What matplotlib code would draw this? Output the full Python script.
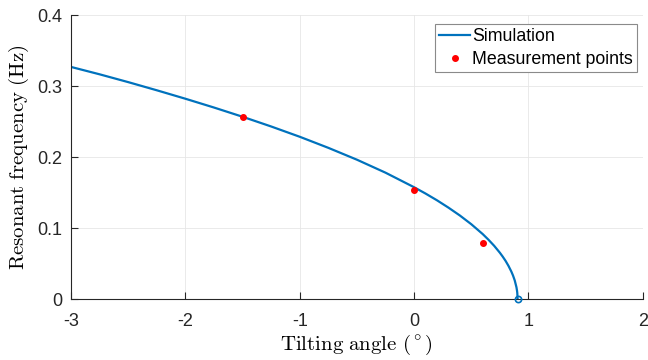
import matplotlib
matplotlib.use("Agg")
import matplotlib.pyplot as plt

# simulation curve
sim_angle = [-3.0, -2.75, -2.5, -2.25, -2.0, -1.75, -1.5, -1.25, -1.0, -0.75,
             -0.5, -0.25, 0.0, 0.1, 0.2, 0.3, 0.4, 0.5, 0.6, 0.65, 0.7, 0.75,
             0.775, 0.8, 0.825, 0.85, 0.865, 0.88, 0.895, 0.9, 0.9025, 0.905]
sim_freq = [0.327, 0.3166, 0.3056, 0.2941, 0.2822, 0.2698, 0.2568, 0.2431,
            0.2286, 0.2130, 0.1963, 0.1780, 0.1575, 0.1486, 0.1391, 0.1288,
            0.1177, 0.1054, 0.0915, 0.0836, 0.0750, 0.0652, 0.0597, 0.0537,
            0.0468, 0.0388, 0.0331, 0.0262, 0.0166, 0.0117, 0.0083, 0.0]

# measurements
meas_angle = [-1.5, 0.0, 0.6]
meas_freq = [0.256, 0.154, 0.079]

xticks = [-3, -2, -1, 0, 1, 2]
yticks = [0, 0.1, 0.2, 0.3, 0.4]

plt.rcParams['font.family'] = ['Liberation Sans', 'DejaVu Sans']
plt.rcParams['mathtext.fontset'] = 'cm'

fig = plt.figure(figsize=(6.48, 3.6), dpi=100)
ax = fig.add_axes([0.1096, 0.1694, 0.8824, 0.7886])

ax.plot(sim_angle, sim_freq, color='#0072BD', lw=1.6, label='Simulation')
ax.plot(sim_angle[-1], sim_freq[-1], 'o', mfc='none', mec='#0072BD', ms=4.5,
        mew=1.2, clip_on=False, zorder=5)
ax.plot(meas_angle, meas_freq, 'o', color='#FF0000', ms=4, ls='none',
        label='Measurement points')

ax.set_xlim(-3, 2)
ax.set_ylim(0, 0.4)
ax.set_xticks(xticks)
ax.set_xticklabels([str(t) for t in xticks])
ax.set_yticks(yticks)
ax.set_yticklabels(['0', '0.1', '0.2', '0.3', '0.4'])
ax.tick_params(direction='in', length=5, width=0.8, labelsize=13,
               colors='#262626', pad=6)
ax.tick_params(axis='x', pad=10)
ax.grid(True, color='#e6e6e6', lw=0.6)
ax.set_axisbelow(True)
for s in ['top', 'right']:
    ax.spines[s].set_visible(False)
for s in ['left', 'bottom']:
    ax.spines[s].set_color('#262626')
    ax.spines[s].set_linewidth(0.8)

ax.set_xlabel(r'$\mathrm{Tilting\ angle\ (^\circ)}$', fontsize=15, labelpad=2)
ax.set_ylabel(r'$\mathrm{Resonant\ frequency\ (Hz)}$', fontsize=15, labelpad=5)

leg = ax.legend(loc='upper right', bbox_to_anchor=(0.99, 0.97), fontsize=12.8,
                fancybox=False, framealpha=1, edgecolor='#8a8a8a',
                borderpad=0.25, handlelength=1.75, handletextpad=0.1,
                labelspacing=0.32, borderaxespad=0)
leg.get_frame().set_linewidth(0.8)

fig.savefig('out.png', dpi=100)
